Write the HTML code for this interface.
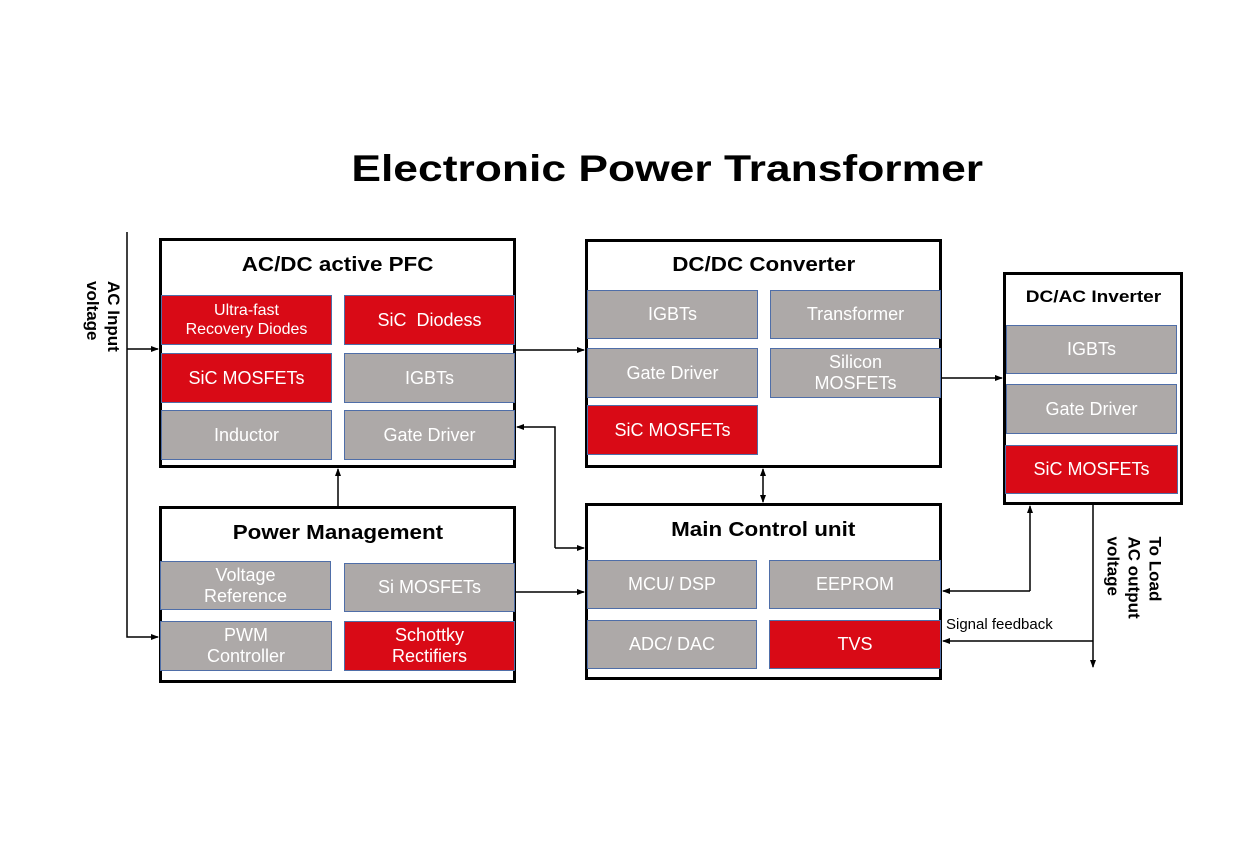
<!DOCTYPE html>
<html><head><meta charset="utf-8"><style>
body{margin:0;width:1260px;height:846px;background:#fff;position:relative;overflow:hidden;font-family:"Liberation Sans",sans-serif}
.box{position:absolute;border:3px solid #000;box-sizing:border-box;background:#fff}
.t{position:absolute;font-weight:bold;font-size:20px;text-align:center;color:#000}
.t span{display:inline-block;transform:scaleX(1.12)}
.c{position:absolute;box-sizing:border-box;border:1.5px solid #4f6ea8;color:#fff;display:flex;align-items:center;justify-content:center;text-align:center;font-size:18px;line-height:21px}
.r{background:#d90a16}.g{background:#ada9a8}
.v{position:absolute;font-weight:bold;font-size:17px;line-height:21px;transform:rotate(90deg);transform-origin:center;white-space:nowrap;text-align:left}
svg{position:absolute;left:0;top:0}
</style></head><body>
<div style="position:absolute;left:0;width:1335px;top:148px;text-align:center;font-size:37px;font-weight:bold"><span style="display:inline-block;transform:scaleX(1.2)">Electronic Power Transformer</span></div>

<div class="box" style="left:159px;top:238px;width:357px;height:230px"></div>
<div class="t" style="left:159px;width:357px;top:254px"><span>AC/DC active PFC</span></div>
<div class="c r" style="left:161px;top:295px;width:171px;height:50px;font-size:16px;line-height:19px">Ultra-fast<br>Recovery Diodes</div>
<div class="c r" style="left:344px;top:295px;width:171px;height:50px">SiC&nbsp; Diodess</div>
<div class="c r" style="left:161px;top:353px;width:171px;height:50px">SiC MOSFETs</div>
<div class="c g" style="left:344px;top:353px;width:171px;height:50px">IGBTs</div>
<div class="c g" style="left:161px;top:410px;width:171px;height:50px">Inductor</div>
<div class="c g" style="left:344px;top:410px;width:171px;height:50px">Gate Driver</div>

<div class="box" style="left:159px;top:506px;width:357px;height:177px"></div>
<div class="t" style="left:159px;width:357px;top:522px"><span>Power Management</span></div>
<div class="c g" style="left:160px;top:561px;width:171px;height:49px">Voltage<br>Reference</div>
<div class="c g" style="left:344px;top:563px;width:171px;height:49px">Si MOSFETs</div>
<div class="c g" style="left:160px;top:621px;width:172px;height:50px">PWM<br>Controller</div>
<div class="c r" style="left:344px;top:621px;width:171px;height:50px">Schottky<br>Rectifiers</div>

<div class="box" style="left:585px;top:239px;width:357px;height:229px"></div>
<div class="t" style="left:585px;width:357px;top:254px"><span>DC/DC Converter</span></div>
<div class="c g" style="left:587px;top:290px;width:171px;height:49px">IGBTs</div>
<div class="c g" style="left:770px;top:290px;width:171px;height:49px">Transformer</div>
<div class="c g" style="left:587px;top:348px;width:171px;height:50px">Gate Driver</div>
<div class="c g" style="left:770px;top:348px;width:171px;height:50px">Silicon<br>MOSFETs</div>
<div class="c r" style="left:587px;top:405px;width:171px;height:50px">SiC MOSFETs</div>

<div class="box" style="left:585px;top:503px;width:357px;height:177px"></div>
<div class="t" style="left:585px;width:357px;top:519px"><span>Main Control unit</span></div>
<div class="c g" style="left:587px;top:560px;width:170px;height:49px">MCU/ DSP</div>
<div class="c g" style="left:769px;top:560px;width:172px;height:49px">EEPROM</div>
<div class="c g" style="left:587px;top:620px;width:170px;height:49px">ADC/ DAC</div>
<div class="c r" style="left:769px;top:620px;width:172px;height:49px">TVS</div>

<div class="box" style="left:1003px;top:272px;width:180px;height:233px"></div>
<div class="t" style="left:1003px;width:180px;top:287px;font-size:17px"><span>DC/AC Inverter</span></div>
<div class="c g" style="left:1006px;top:325px;width:171px;height:49px">IGBTs</div>
<div class="c g" style="left:1006px;top:384px;width:171px;height:50px">Gate Driver</div>
<div class="c r" style="left:1005px;top:445px;width:173px;height:49px">SiC MOSFETs</div>

<div class="v" style="left:63px;top:300px;width:80px">AC Input<br>voltage</div>
<div class="v" style="left:1084px;top:555px;width:100px">To Load<br>AC output<br>voltage</div>
<div style="position:absolute;left:946px;top:616px;font-size:15px">Signal feedback</div>

<svg width="1260" height="846">
<defs><marker id="a" markerWidth="8" markerHeight="8" refX="7" refY="4" orient="auto" markerUnits="userSpaceOnUse"><path d="M0,1 L8,4 L0,7z" fill="#000"/></marker></defs>
<g stroke="#000" stroke-width="1.5" fill="none">
<path d="M127,232 V637 H158" marker-end="url(#a)"/>
<path d="M127,349 H158" marker-end="url(#a)"/>
<path d="M516,350 H584" marker-end="url(#a)"/>
<path d="M942,378 H1002" marker-end="url(#a)"/>
<path d="M338,506 V469" marker-end="url(#a)"/>
<path d="M555,548 V427 H517" marker-end="url(#a)"/>
<path d="M555,548 H584" marker-end="url(#a)"/>
<path d="M763,485 V469" marker-end="url(#a)"/>
<path d="M763,485 V502" marker-end="url(#a)"/>
<path d="M516,592 H584" marker-end="url(#a)"/>
<path d="M1030,591 V506" marker-end="url(#a)"/>
<path d="M1030,591 H943" marker-end="url(#a)"/>
<path d="M1093,505 V667" marker-end="url(#a)"/>
<path d="M1093,641 H943" marker-end="url(#a)"/>
</g></svg>
</body></html>
